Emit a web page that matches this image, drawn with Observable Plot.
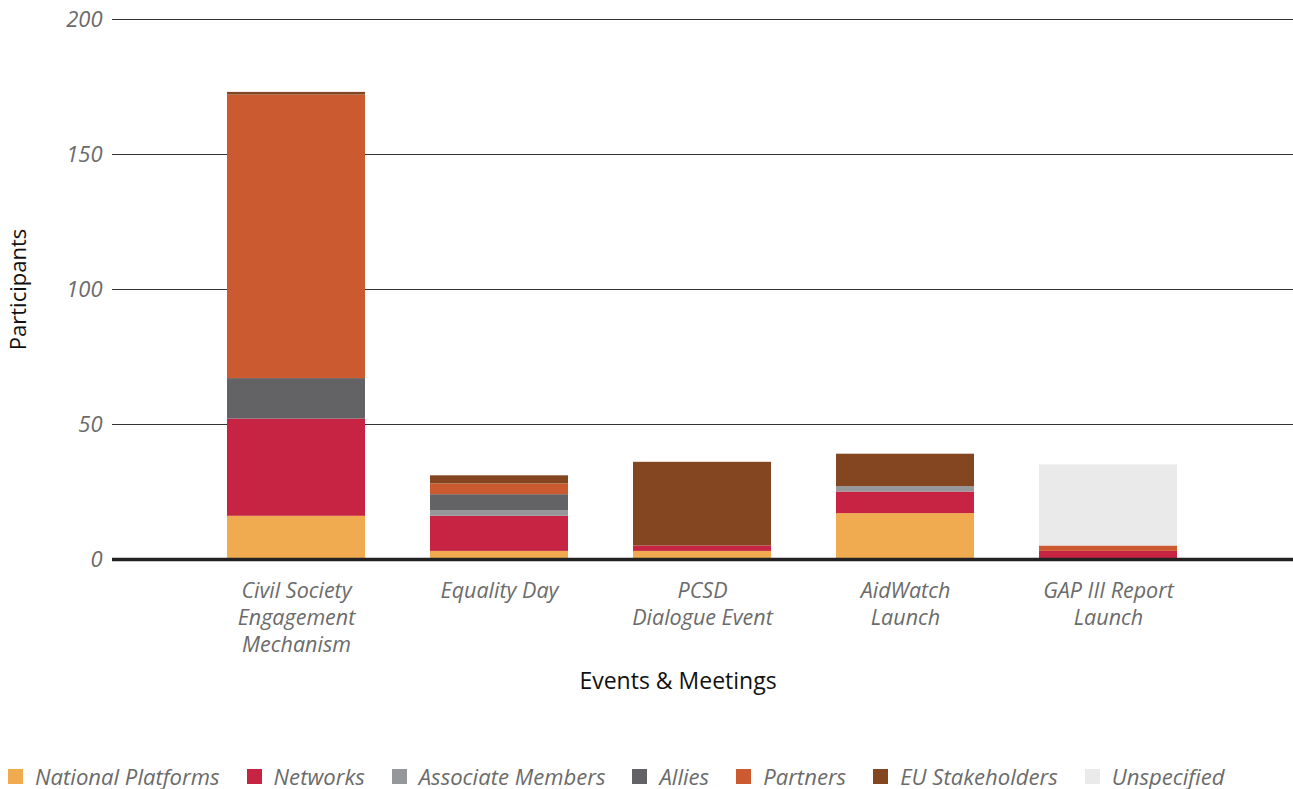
<!DOCTYPE html>
<html>
<head>
<meta charset="utf-8">
<script src="https://cdn.jsdelivr.net/npm/d3@7"></script>
<script src="https://cdn.jsdelivr.net/npm/@observablehq/plot@0.6"></script>
<style>
  html, body { margin: 0; padding: 0; background: #fff; }
  body { width: 1293px; height: 789px; position: relative; overflow: hidden; font-family: "Open Sans", sans-serif; }
  #legend { position: absolute; left: 8px; top: 761px; display: flex; align-items: center; font-style: italic; font-size: 22.1px; color: #6b6b6b; white-space: nowrap; }
  #legend .item { display: flex; align-items: center; margin-right: 27px; }
  #legend .sw { width: 15px; height: 15px; margin-right: 12px; }
</style>
</head>
<body>
<div id="chart"></div>
<div id="legend"></div>
<script>
const categories = ["Civil Society\nEngagement\nMechanism", "Equality Day", "PCSD\nDialogue Event", "AidWatch\nLaunch", "GAP III Report\nLaunch"];
const seriesNames = ["National Platforms", "Networks", "Associate Members", "Allies", "Partners", "EU Stakeholders", "Unspecified"];
const seriesColors = ["#f0ab51", "#c72443", "#96979b", "#636365", "#cb5a30", "#834621", "#eaeaea"];
const nationalPlatforms = [16, 3, 3, 17, 0];
const networks = [36, 13, 2, 8, 3];
const associateMembers = [0, 2, 0, 2, 0];
const allies = [15, 6, 0, 0, 0];
const partners = [105, 4, 0, 0, 2];
const euStakeholders = [1, 3, 31, 12, 0];
const unspecified = [0, 0, 0, 0, 30];
const yTicks = [0, 50, 100, 150, 200];

const seriesValues = [nationalPlatforms, networks, associateMembers, allies, partners, euStakeholders, unspecified];
const data = [];
categories.forEach((c, i) => {
  seriesNames.forEach((s, j) => {
    data.push({category: c, series: s, value: seriesValues[j][i]});
  });
});

const textGrey = "#6b6b6b";
const chart = Plot.plot({
  width: 1293,
  height: 710,
  marginLeft: 112,
  marginRight: 0,
  marginTop: 19,
  marginBottom: 151,
  style: {fontFamily: "'Open Sans', sans-serif", background: "#fff", overflow: "visible"},
  x: {domain: categories, range: [226, 1178], paddingInner: 0.322, paddingOuter: 0, axis: null},
  y: {domain: [0, 200], axis: null},
  color: {domain: seriesNames, range: seriesColors},
  marks: [
    Plot.ruleY(yTicks.filter(d => d > 0), {stroke: "#333", strokeWidth: 1}),
    Plot.barY(data, Plot.stackY({order: null}, {x: "category", y: "value", fill: "series"})),
    Plot.ruleY([0], {stroke: "#222", strokeWidth: 3.5}),
    Plot.axisY(yTicks, {tickSize: 0, tickPadding: 10, fontSize: 22, fontStyle: "italic", fill: textGrey, label: null}),
    Plot.text(categories, {x: d => d, y: () => 0, text: d => d, dy: 19, lineAnchor: "top", lineHeight: 1.27, fontSize: 21.5, fontStyle: "italic", fill: textGrey}),
    Plot.text(["Participants"], {frameAnchor: "left", textAnchor: "middle", dx: -94, dy: 0, rotate: -90, fontSize: 22, fill: "#111"}),
    Plot.text(["Events & Meetings"], {frameAnchor: "bottom", dx: -25, dy: 129, fontSize: 23, fill: "#111"})
  ]
});
document.getElementById("chart").appendChild(chart);

const legend = document.getElementById("legend");
seriesNames.forEach((s, i) => {
  const item = document.createElement("div");
  item.className = "item";
  const sw = document.createElement("div");
  sw.className = "sw";
  sw.style.background = seriesColors[i];
  const label = document.createElement("span");
  label.textContent = s;
  item.appendChild(sw);
  item.appendChild(label);
  legend.appendChild(item);
});
</script>
</body>
</html>
